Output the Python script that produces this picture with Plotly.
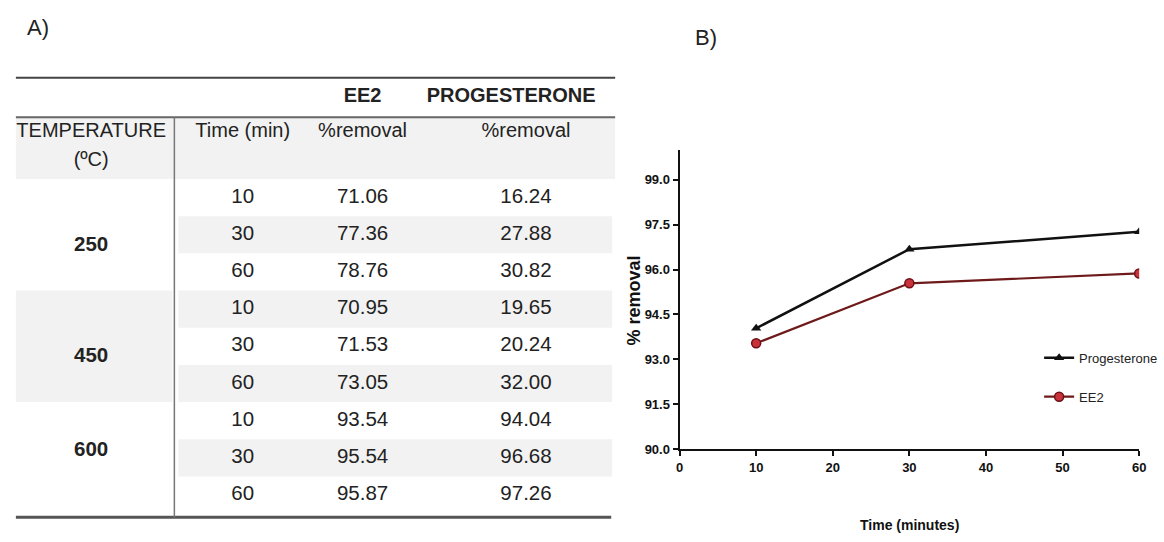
import plotly.graph_objects as go

# ---- data ----
temperatures = [250, 450, 600]
times = [10, 30, 60, 10, 30, 60, 10, 30, 60]
ee2_removal = [71.06, 77.36, 78.76, 70.95, 71.53, 73.05, 93.54, 95.54, 95.87]
prog_removal = [16.24, 27.88, 30.82, 19.65, 20.24, 32.00, 94.04, 96.68, 97.26]
x_ticks = [0, 10, 20, 30, 40, 50, 60]
y_ticks = [90.0, 91.5, 93.0, 94.5, 96.0, 97.5, 99.0]

# ---- page / fonts ----
W, H = 1164, 542
SANS = "Liberation Sans, Arial, sans-serif"
TEXT = "#222222"
SHADE = "#f2f2f2"

# ---- table geometry (pixel units on a hidden axis pair) ----
TBL_W = 630
ROW0, ROW_H = 200.5, 37.75
LEFT, RIGHT, VLINE = 12, 617, 172
COL_TEMP, COL_TIME, COL_EE2, COL_PROG = 88, 241, 362, 527
PROG_HEAD_X = 512
TEMP_LABEL_ROWS = [1.31, 4.28, 6.82]


def row_y(r):
    return ROW0 + ROW_H * r


fig = go.Figure()

shapes = []


def rect(x0, y0, x1, y1, color=SHADE):
    shapes.append(dict(type="rect", xref="x2", yref="y2", x0=x0, x1=x1, y0=y0, y1=y1,
                       fillcolor=color, line=dict(width=0), layer="below"))


def hline(y, x0, x1, color, width):
    shapes.append(dict(type="line", xref="x2", yref="y2", x0=x0, x1=x1, y0=y, y1=y,
                       line=dict(color=color, width=width), layer="below"))


# shaded bands
rect(LEFT, 119, RIGHT, row_y(-0.5))
for r in range(len(times)):
    if r % 2 == 1:
        rect(VLINE + 4, row_y(r - 0.5), RIGHT - 3, row_y(r + 0.5))
rect(LEFT, row_y(2.5), VLINE - 2, row_y(5.5))

# rules
hline(79, LEFT, RIGHT, "#444444", 2)
hline(119, LEFT, RIGHT, "#666666", 2)
hline(row_y(8.5) + 3.5, LEFT, RIGHT - 4, "#555555", 3)
shapes.append(dict(type="line", xref="x2", yref="y2", x0=VLINE, x1=VLINE, y0=119,
                   y1=row_y(8.5) + 3.5, line=dict(color="#777777", width=1.5), layer="below"))

rows = list(range(len(times)))


def text_trace(xs, ys, labels, size, bold=False):
    return go.Scatter(x=xs, y=ys, text=labels, mode="text", textposition="middle center",
                      textfont=dict(family=SANS, size=size, color=TEXT,
                                    weight="bold" if bold else "normal"),
                      xaxis="x2", yaxis="y2", showlegend=False, hoverinfo="skip")


# header rows
fig.add_trace(text_trace([COL_EE2, PROG_HEAD_X], [98, 98], ["EE2", "PROGESTERONE"], 20, bold=True))
fig.add_trace(text_trace([COL_TEMP, COL_TEMP, COL_TIME, COL_EE2, COL_PROG],
                         [134, 163, 134, 134, 134],
                         ["TEMPERATURE", "(ºC)", "Time (min)", "%removal", "%removal"], 20))
# body
fig.add_trace(text_trace([COL_TIME] * len(rows), [row_y(r) for r in rows],
                         [str(t) for t in times], 20.5))
fig.add_trace(text_trace([COL_EE2] * len(rows), [row_y(r) for r in rows],
                         [f"{v:.2f}" for v in ee2_removal], 20.5))
fig.add_trace(text_trace([COL_PROG] * len(rows), [row_y(r) for r in rows],
                         [f"{v:.2f}" for v in prog_removal], 20.5))
fig.add_trace(text_trace([COL_TEMP] * len(temperatures), [row_y(r) for r in TEMP_LABEL_ROWS],
                         [str(t) for t in temperatures], 20.5, bold=True))

# ---- line chart: removal at 600 ºC ----
hi = slice(6, 9)
fig.add_trace(go.Scatter(
    x=times[hi], y=prog_removal[hi], name="Progesterone", mode="lines+markers",
    line=dict(color="#111111", width=2.5),
    marker=dict(symbol="triangle-up", size=9, color="#111111"),
    legendgroup="p", xaxis="x", yaxis="y"))
fig.add_trace(go.Scatter(
    x=times[hi], y=ee2_removal[hi], name="EE2", mode="lines+markers",
    line=dict(color="#6e1a1a", width=2.2),
    marker=dict(symbol="circle", size=9, color="#c8323a", line=dict(color="#6e1016", width=1.5)),
    legendgroup="e", xaxis="x", yaxis="y"))

axis_font = dict(family=SANS, size=13, color="#111111", weight="bold")

fig.update_layout(
    width=W, height=H, margin=dict(l=0, r=0, t=0, b=0),
    paper_bgcolor="white", plot_bgcolor="rgba(0,0,0,0)",
    shapes=shapes,
    xaxis=dict(domain=[682 / W, 1146 / W], range=[0, 60], tickvals=x_ticks,
               showline=True, linecolor="#111111", linewidth=2, ticks="outside",
               ticklen=5, tickwidth=1.5, tickcolor="#111111", tickfont=axis_font,
               showgrid=False, zeroline=False, anchor="y"),
    yaxis=dict(domain=[1 - 456 / H, 1 - 152 / H], range=[90, 100], tickvals=y_ticks,
               tickformat=".1f", showline=True, linecolor="#111111", linewidth=2,
               ticks="outside", ticklen=5, tickwidth=1.5, tickcolor="#111111",
               tickfont=axis_font, showgrid=False, zeroline=False, anchor="x"),
    xaxis2=dict(domain=[0, TBL_W / W], range=[0, TBL_W], visible=False, anchor="y2"),
    yaxis2=dict(domain=[0, 1], range=[H, 0], visible=False, anchor="x2"),
    legend=dict(x=1045 / W, y=1 - 348 / H, xanchor="left", yanchor="top",
                bgcolor="rgba(0,0,0,0)", tracegroupgap=19,
                font=dict(family=SANS, size=13, color="#222222")),
    annotations=[
        dict(text="A)", x=21 / W, y=1 - 28 / H, xref="paper", yref="paper",
             xanchor="left", yanchor="middle", showarrow=False,
             font=dict(family=SANS, size=22, color="#222222")),
        dict(text="B)", x=696 / W, y=1 - 38 / H, xref="paper", yref="paper",
             xanchor="left", yanchor="middle", showarrow=False,
             font=dict(family=SANS, size=22, color="#222222")),
        dict(text="Time (minutes)", x=914 / W, y=1 - 533 / H, xref="paper", yref="paper",
             xanchor="center", yanchor="middle", showarrow=False,
             font=dict(family=SANS, size=14, color="#111111", weight="bold")),
        dict(text="% removal", x=637 / W, y=1 - 305 / H, xref="paper", yref="paper",
             xanchor="center", yanchor="middle", showarrow=False, textangle=-90,
             font=dict(family=SANS, size=18, color="#111111", weight="bold")),
    ],
)

fig.write_html("out.html")
